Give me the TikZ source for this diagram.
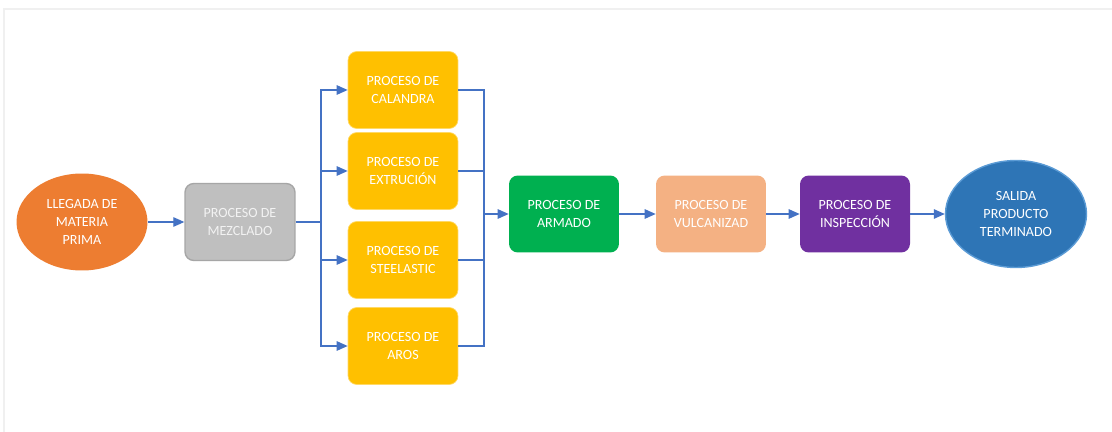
\documentclass[tikz,border=0pt]{standalone}
\usepackage{fontspec}
\setmainfont{Carlito}
\usetikzlibrary{shapes.geometric,arrows.meta}
\definecolor{flowblue}{HTML}{4472C4}
\definecolor{orangeF}{HTML}{ED7D31}
\definecolor{grayF}{HTML}{BFBFBF}
\definecolor{grayB}{HTML}{A6A6A6}
\definecolor{yellowF}{HTML}{FFC000}
\definecolor{greenF}{HTML}{00B050}
\definecolor{peachF}{HTML}{F4B183}
\definecolor{purpleF}{HTML}{7030A0}
\definecolor{blueF}{HTML}{2E75B6}
\definecolor{blueB}{HTML}{5B9BD5}
\begin{document}
\begin{tikzpicture}[x=0.02cm,y=-0.02cm,
  txt/.style={font=\fontsize{8pt}{10.2pt}\selectfont, text=white, align=center},
  procbox/.style={txt, rounded corners=5pt, minimum width=2.2cm, minimum height=1.54cm, inner sep=0pt},
  yel/.style={procbox, fill=yellowF, draw=yellowF!60!white, line width=0.4pt},
  ovalnode/.style={txt, ellipse, inner sep=0pt},
  ln/.style={draw=flowblue, line width=0.7pt},
  arr/.style={ln, -{Triangle[length=2.2mm,width=1.9mm]}}
]
\useasboundingbox (0,0) rectangle (1112,432);
\fill[white] (0,0) rectangle (1112,432);
% faint frame shadow
\draw[black!6, line width=1pt] (4,432) -- (4,9) -- (1112,9);

% nodes
\node[ovalnode, fill=orangeF, minimum width=2.62cm, minimum height=1.94cm] (lleg) at (82,222) {LLEGADA DE\\MATERIA\\PRIMA};
\node[procbox, fill=grayF, draw=grayB, line width=0.8pt, text=black!5] (mez) at (240,222) {PROCESO DE\\MEZCLADO};
\node[yel] (cal) at (403,90) {PROCESO DE\\CALANDRA};
\node[yel] (ext) at (403,171) {PROCESO DE\\EXTRUCIÓN};
\node[yel] (ste) at (403,260) {PROCESO DE\\STEELASTIC};
\node[yel] (aro) at (403,346) {PROCESO DE\\AROS};
\node[procbox, fill=greenF] (arm) at (564,214) {PROCESO DE\\ARMADO};
\node[procbox, fill=peachF] (vul) at (711,214) {PROCESO DE\\VULCANIZAD};
\node[procbox, fill=purpleF] (ins) at (855,214) {PROCESO DE\\INSPECCIÓN};
\node[ovalnode, fill=blueF, draw=blueB, line width=0.8pt, minimum width=2.82cm, minimum height=2.14cm] (sal) at (1016,214) {SALIDA\\PRODUCTO\\TERMINADO};

% branch points
\coordinate (sL) at (321,222);
\coordinate (sR) at (484,214);

% connectors
\draw[arr] (lleg.east) -- (mez.west);
\draw[ln] (mez.east) -- (sL);
\draw[arr] (sL) |- (cal.west);
\draw[arr] (sL) |- (ext.west);
\draw[arr] (sL) |- (ste.west);
\draw[arr] (sL) |- (aro.west);
\draw[ln] (cal.east) -| (sR);
\draw[ln] (ext.east) -| (sR);
\draw[ln] (ste.east) -| (sR);
\draw[ln] (aro.east) -| (sR);
\draw[arr] (sR) -- (arm.west);
\draw[arr] (arm.east) -- (vul.west);
\draw[arr] (vul.east) -- (ins.west);
\draw[arr] (ins.east) -- (sal.west);
\end{tikzpicture}
\end{document}
